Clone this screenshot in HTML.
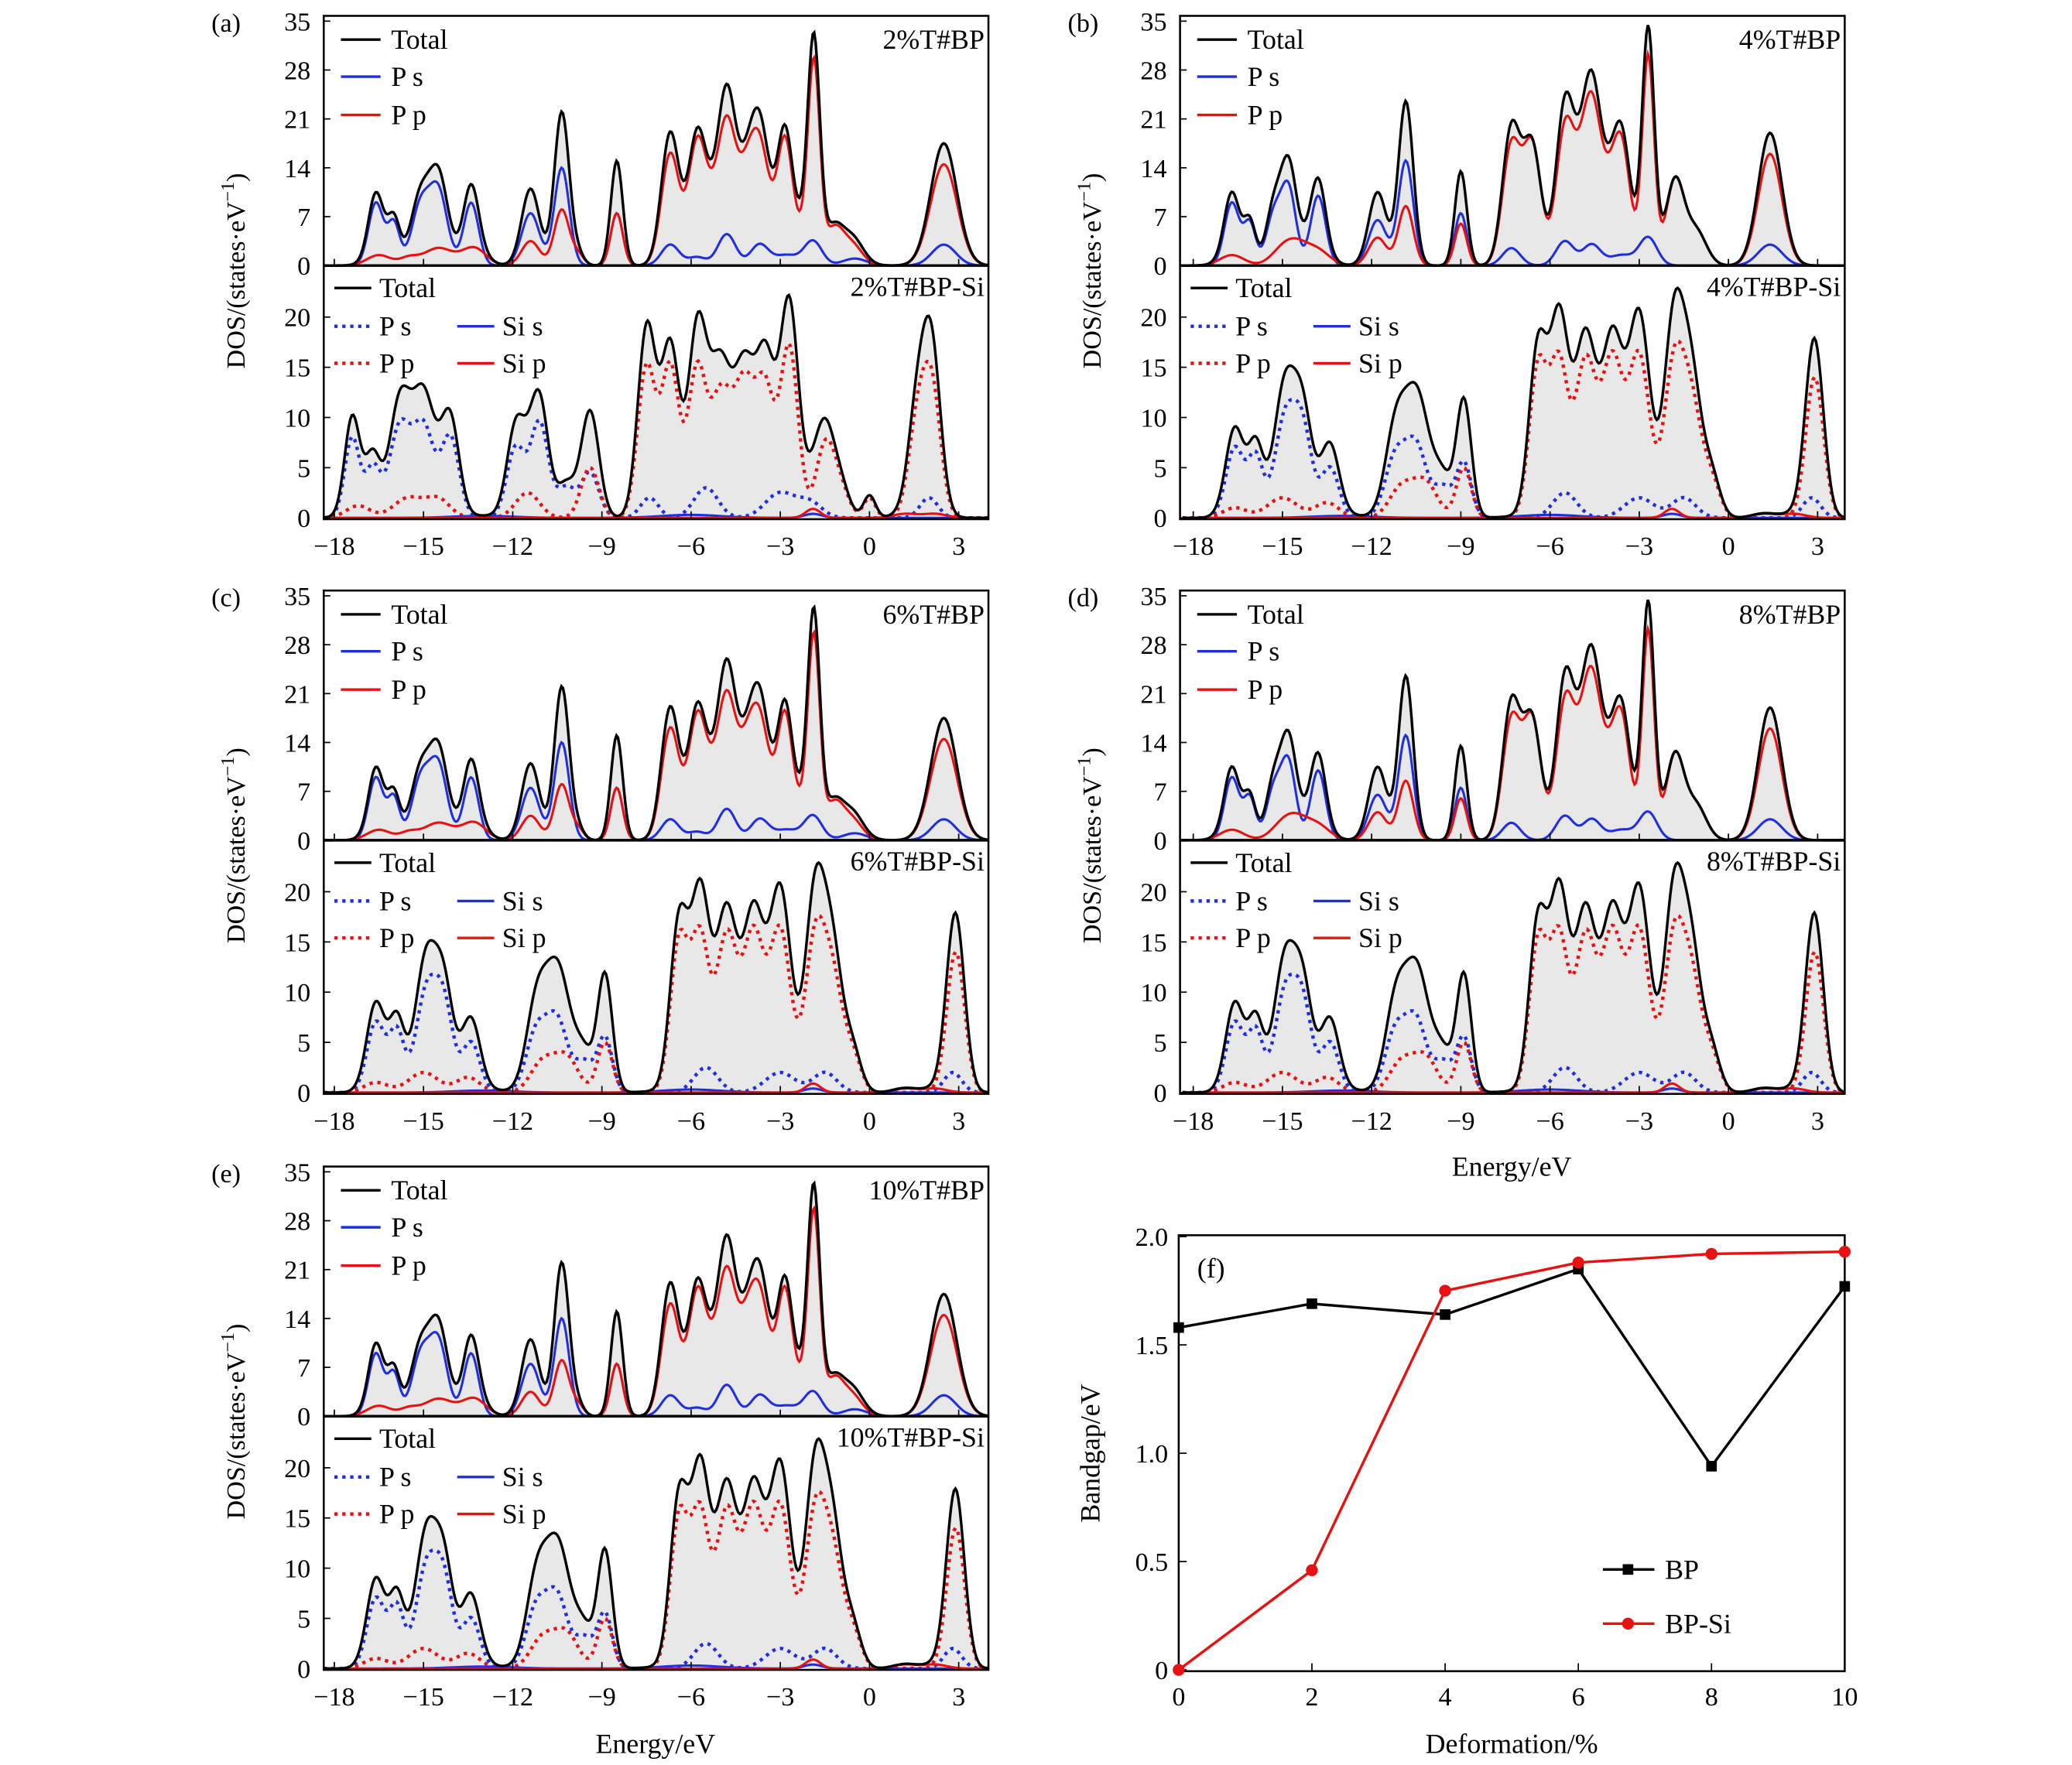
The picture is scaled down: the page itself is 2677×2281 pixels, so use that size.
<!DOCTYPE html>
<html><head><meta charset="utf-8"><style>
html,body{margin:0;padding:0;background:#fff}
svg{display:block}
text{font-family:"Liberation Serif",serif;fill:#000}
</style></head><body>
<svg id="fig" xmlns="http://www.w3.org/2000/svg" width="2677" height="2281" viewBox="0 0 1568 1336" preserveAspectRatio="none"></svg>
<script>
// ---------- data ----------
const energyTicks = [-18,-15,-12,-9,-6,-3,0,3];
const topTicks = [0,7,14,21,28,35];
const botTicks = [0,5,10,15,20];
const strainCats = [0,2,4,6,8,10];
const bandBP = [1.58,1.69,1.64,1.85,0.94,1.77];
const bandBPSi = [0,0.46,1.75,1.88,1.92,1.93];
const bandTicks = [0,0.5,1.0,1.5,2.0];
// peaks: [energy eV, height states/eV, width eV]
const topA_Ps = [[-16.6,9,.25],[-16,6,.2],[-15.1,8.5,.3],[-14.5,10.5,.3],[-13.4,9,.25],[-11.4,7.5,.3],[-10.35,14,.25],[-8.5,7.5,.2],[-6.7,3,.3],[-4.8,4.5,.3],[-3.7,3,.3],[-1.9,3.5,.3],[2.5,3,.4],[-2.8,1.5,.4],[-5.8,1.2,.3],[-0.5,1,.4]];
const topA_Pp = [[-16.5,1.5,.4],[-15.5,1,.3],[-14.5,2.5,.5],[-13.3,2.5,.4],[-11.4,3.5,.3],[-10.35,8,.25],[-9.8,1.5,.2],[-8.5,7.5,.2],[-6.7,16,.3],[-5.8,17,.3],[-4.8,19,.3],[-3.7,17,.35],[-2.85,17,.25],[-1.87,28,.2],[-1.2,5,.3],[-0.6,3,.35],[2.5,14.5,.45],[-5.3,5,.3],[-4.2,8,.3],[-2.3,4,.3]];
const topB_Ps = [[-16.7,9,.25],[-16.1,6,.2],[-15.3,7,.25],[-14.8,11,.25],[-13.8,10,.25],[-11.8,6.5,.3],[-10.85,15,.25],[-9,7.5,.2],[-7.3,2.5,.3],[-5.5,3.5,.3],[-4.6,3,.3],[-2.7,4,.3],[1.4,3,.4],[-3.6,1.5,.4]];
const topB_Pp = [[-16.7,1.5,.4],[-15,2,.4],[-14.5,2.5,.4],[-13.8,2,.4],[-11.8,4,.3],[-10.85,8.5,.25],[-9,6,.2],[-7.3,17,.3],[-6.6,17,.3],[-5.5,19,.3],[-4.6,20,.3],[-3.6,17,.3],[-2.7,30,.2],[-1.8,12,.3],[-1.1,5,.35],[1.4,16,.4],[-5,7,.3],[-4.1,7,.3]];
const bot_Ps = [[-17.4,8,.25],[-16.7,5,.25],[-15.8,9,.35],[-15,9,.35],[-14.1,8,.3],[-11.9,7,.3],[-11.1,9.5,.3],[-10.2,3,.3],[-9.4,4.5,.3],[-7.4,2,.3],[-5.5,3,.4],[-3,2.5,.5],[-2,1.5,.4],[2,2,.3]];
const bot_Pp = [[-17.2,1.2,.4],[-15.5,2,.5],[-14.5,1.8,.4],[-11.5,2.5,.4],[-9.4,5,.3],[-7.5,15,.3],[-6.7,15,.3],[-5.8,14.5,.3],[-5,12,.35],[-4.2,13,.35],[-3.5,12,.3],[-2.7,17,.3],[-1.5,7,.3],[-1,3,.3],[0,2,.2],[1.6,9,.3],[2.1,12.5,.3]];
const bot_Sis = [[-13,.2,1],[-6,.3,1],[-1.9,.4,.3]];
const bot_Sip = [[-1.9,.9,.25],[1.2,.4,.4],[2.2,.4,.4]];
const botB_Ps = [[-16.6,7,.3],[-15.9,6,.25],[-14.9,10,.35],[-14.3,8,.3],[-13.4,5,.3],[-11.2,6,.35],[-10.5,7,.35],[-9.6,3,.3],[-8.9,5.5,.25],[-5.5,2.5,.4],[-3,2,.5],[-1.5,2,.4],[2.8,2,.3]];
const botB_Pp = [[-16.6,1,.4],[-15,2,.5],[-13.5,1.5,.4],[-11,3,.4],[-10.2,3.5,.4],[-8.9,5,.25],[-6.4,15,.3],[-5.7,15,.3],[-4.8,15.5,.35],[-3.9,15.5,.35],[-3,16,.35],[-1.8,16,.35],[-1.2,9,.3],[-0.6,4,.3],[2.9,14,.3]];
const bot_total_factor = 1.12;
const panels = [
 {id:'a',x0:245,y0:12,xt:253,tp:topA_Ps,tpp:topA_Pp,bs:bot_Ps,bp:bot_Pp,lbl:'2%T#BP',lblS:'2%T#BP-Si'},
 {id:'b',x0:893,y0:12,xt:903,tp:topB_Ps,tpp:topB_Pp,bs:botB_Ps,bp:botB_Pp,lbl:'4%T#BP',lblS:'4%T#BP-Si'},
 {id:'c',x0:245,y0:447,xt:253,tp:topA_Ps,tpp:topA_Pp,bs:botB_Ps,bp:botB_Pp,lbl:'6%T#BP',lblS:'6%T#BP-Si'},
 {id:'d',x0:893,y0:447,xt:903,tp:topB_Ps,tpp:topB_Pp,bs:botB_Ps,bp:botB_Pp,lbl:'8%T#BP',lblS:'8%T#BP-Si'},
 {id:'e',x0:245,y0:883,xt:253,tp:topA_Ps,tpp:topA_Pp,bs:botB_Ps,bp:botB_Pp,lbl:'10%T#BP',lblS:'10%T#BP-Si'}
];
// ---------- drawing ----------
const NS='http://www.w3.org/2000/svg';
const svg=document.getElementById('fig');
function el(tag,attrs,parent,txt){const e=document.createElementNS(NS,tag);for(const k in attrs)e.setAttribute(k,attrs[k]);if(txt!==undefined)e.textContent=txt;(parent||svg).appendChild(e);return e;}
function dens(peaks,E){let s=0;for(const p of peaks){const d=(E-p[0])/p[2];s+=p[1]*Math.exp(-0.5*d*d);}return s;}
const EMIN=-18.36,EMAX=4.0,STEP=0.05;
const Es=[];for(let E=EMIN;E<=EMAX+1e-9;E+=STEP)Es.push(E);
function pathFrom(xf,yf,vals){return vals.map((v,i)=>(i?'L':'M')+xf(Es[i]).toFixed(2)+','+yf(v).toFixed(2)).join('');}
const BLUE='#1f2fe0',RED='#e81010';
panels.forEach(P=>{
  const g=el('g',{});
  
  
  const W=503;
  const xf=E=>P.xt+(E+18)*22.5;
  const tTop=P.y0, tBot=P.y0+189;
  const ytf=v=>tBot-v*(185/35);
  const bBot=P.y0+380;
  const ybf=v=>bBot-v*(152/20);
  const sets=[
    {ys:ytf,series:[['ps',P.tp,BLUE,''],['pp',P.tpp,RED,'']],total:E=>dens(P.tp,E)+dens(P.tpp,E),name:'bp'},
    {ys:ybf,series:[['ps',P.bs,BLUE,'2.5,3.5'],['pp',P.bp,RED,'2.5,3.5'],['sis',bot_Sis,BLUE,''],['sip',bot_Sip,RED,'']],total:E=>bot_total_factor*(dens(P.bs,E)+dens(P.bp,E)+dens(bot_Sis,E)+dens(bot_Sip,E)),name:'bpsi'}
  ];
  const cid='clip'+P.id;
  const cp=el('clipPath',{id:cid},g);el('rect',{x:P.x0,y:tTop,width:W,height:bBot-tTop+2},cp);
  sets.forEach(S=>{
    const tv=Es.map(S.total);
    const fillD=pathFrom(xf,S.ys,tv)+'L'+xf(Es[Es.length-1])+','+S.ys(0)+'L'+xf(Es[0])+','+S.ys(0)+'Z';
    const f=el('path',{d:fillD,fill:'#e8e8e8',stroke:'none','clip-path':'url(#'+cid+')'},g);
    
    
    S.series.forEach(s=>{
      const pv=Es.map(E=>dens(s[1],E));
      const a={d:pathFrom(xf,S.ys,pv),fill:'none',stroke:s[2],'stroke-width':s[3]?2.6:1.8,'clip-path':'url(#'+cid+')'};
      if(s[3])a['stroke-dasharray']=s[3];
      const p=el('path',a,g);
      
      
    });
    const t=el('path',{d:pathFrom(xf,S.ys,tv),fill:'none',stroke:'#000','stroke-width':2,'clip-path':'url(#'+cid+')'},g);
    
    
  });
  el('rect',{x:P.x0,y:tTop,width:W,height:bBot-tTop+1,fill:'none',stroke:'#000','stroke-width':1.5},g);
  el('line',{x1:P.x0,x2:P.x0+W,y1:tBot,y2:tBot,stroke:'#000','stroke-width':2},g);
  topTicks.forEach(v=>{const y=ytf(v);el('line',{x1:P.x0,x2:P.x0+5,y1:y,y2:y,stroke:'#000'},g);
    const t=el('text',{x:P.x0-10,y:y+7,'text-anchor':'end','font-size':20},g,String(v));});
  botTicks.forEach(v=>{const y=ybf(v);el('line',{x1:P.x0,x2:P.x0+5,y1:y,y2:y,stroke:'#000'},g);
    const t=el('text',{x:P.x0-10,y:y+7,'text-anchor':'end','font-size':20},g,String(v));});
  energyTicks.forEach(E=>{const x=xf(E);el('line',{x1:x,x2:x,y1:bBot,y2:bBot-5,stroke:'#000'},g);el('line',{x1:x,x2:x,y1:tBot,y2:tBot-5,stroke:'#000'},g);
    const t=el('text',{x:x,y:bBot+28,'text-anchor':'middle','font-size':20},g,(E<0?'\u2212'+(-E):String(E)));});
  const pl=el('text',{x:P.x0-85,y:P.y0+12,'font-size':20},g,'('+P.id+')');
  const yl=el('text',{x:0,y:0,'font-size':20,'text-anchor':'middle',transform:'translate('+(P.x0-60)+','+(P.y0+193)+') rotate(-90)'},g);
  
  el('tspan',{},yl,'DOS/(states·eV');
  el('tspan',{dy:-8,'font-size':14},yl,'\u22121');
  el('tspan',{dy:8},yl,')');
  const t1=el('text',{x:P.x0+W-3,y:P.y0+25,'text-anchor':'end','font-size':21},g,P.lbl);
  const t2=el('text',{x:P.x0+W-3,y:tBot+23,'text-anchor':'end','font-size':21},g,P.lblS);
  [['Total','#000',18],['P s',BLUE,46],['P p',RED,75]].forEach(l=>{
    const lg=el('g',{},g);
    el('line',{x1:P.x0+13,x2:P.x0+43,y1:P.y0+l[2],y2:P.y0+l[2],stroke:l[1],'stroke-width':2},lg);
    el('text',{x:P.x0+51,y:P.y0+l[2]+7,'font-size':21},lg,l[0]);
  });
  [['Total','#000',8,17,''],['P s',BLUE,8,46,'2.5,3.5'],['P p',RED,8,74,'2.5,3.5'],['Si s',BLUE,101,46,''],['Si p',RED,101,74,'']].forEach(l=>{
    const lg=el('g',{},g);
    const a={x1:P.x0+l[2],x2:P.x0+l[2]+28,y1:tBot+l[3],y2:tBot+l[3],stroke:l[1],'stroke-width':l[4]?2.6:2};if(l[4])a['stroke-dasharray']=l[4];
    el('line',a,lg);
    el('text',{x:P.x0+l[2]+34,y:tBot+l[3]+7,'font-size':21},lg,l[0]);
  });
});
[[1144,890],[496,1327]].forEach(p=>{const t=el('text',{x:p[0],y:p[1],'text-anchor':'middle','font-size':21},svg,'Energy/eV');});
// ---------- panel f ----------
(function(){
  const X0=892,X1=1396,Y0=1264,Y1=936;
  const xs=v=>X0+(v/10)*(X1-X0);
  const ys=v=>Y0-(v/2)*(Y0-Y1);
  const g=el('g',{});
  el('rect',{x:X0,y:935,width:X1-X0,height:330,fill:'none',stroke:'#000','stroke-width':1.5},g);
  strainCats.forEach(v=>{const x=xs(v);el('line',{x1:x,x2:x,y1:1265,y2:1259,stroke:'#000'},g);
    const t=el('text',{x:x,y:1291,'text-anchor':'middle','font-size':20},g,String(v));});
  bandTicks.forEach(v=>{const y=ys(v);el('line',{x1:X0,x2:X0+6,y1:y,y2:y,stroke:'#000'},g);
    const t=el('text',{x:X0-8,y:y+7,'text-anchor':'end','font-size':20},g,v===0?'0':v.toFixed(1));});
  const xt=el('text',{x:1144,y:1327,'text-anchor':'middle','font-size':21},g,'Deformation/%');
  const yt=el('text',{x:0,y:0,'text-anchor':'middle','font-size':21,transform:'translate(832,1100) rotate(-90)'},g,'Bandgap/eV');
  const fl=el('text',{x:906,y:967,'font-size':21},g,'(f)');
  [[bandBP,'#000','sq','bp'],[bandBPSi,RED,'ci','bp-si']].forEach(s=>{
    const d=s[0].map((v,i)=>(i?'L':'M')+xs(strainCats[i])+','+ys(v)).join('');
    const p=el('path',{d:d,fill:'none',stroke:s[1],'stroke-width':2},g);
    
    
    s[0].forEach((v,i)=>{
      const m=s[2]==='sq'?el('rect',{x:xs(strainCats[i])-4,y:ys(v)-4,width:8,height:8,fill:s[1]},g):el('circle',{cx:xs(strainCats[i]),cy:ys(v),r:4.5,fill:s[1]},g);
      
      
    });
  });
  [['BP','#000',1188,'sq'],['BP-Si',RED,1229,'ci']].forEach(l=>{
    const lg=el('g',{},g);
    el('line',{x1:1213,x2:1252,y1:l[2],y2:l[2],stroke:l[1],'stroke-width':2},lg);
    if(l[3]==='sq')el('rect',{x:1228,y:l[2]-4,width:8,height:8,fill:l[1]},lg);else el('circle',{cx:1232,cy:l[2],r:4.5,fill:l[1]},lg);
    el('text',{x:1260,y:l[2]+7,'font-size':21},lg,l[0]);
  });
})();
</script>
</body></html>
